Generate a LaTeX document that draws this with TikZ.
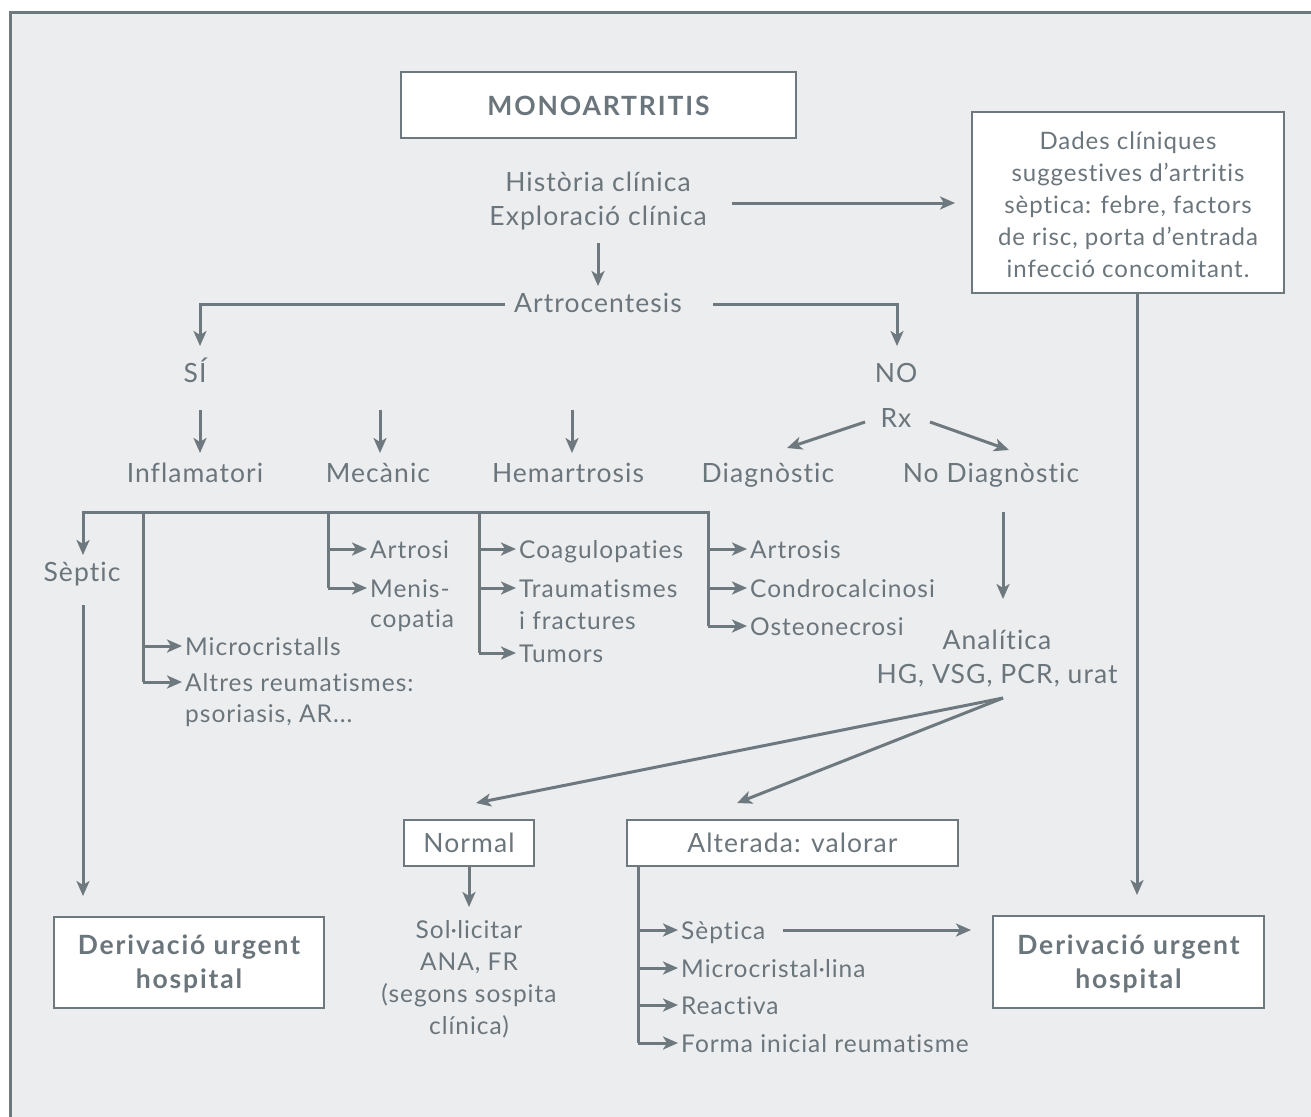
\documentclass[tikz,border=0pt]{standalone}
\usepackage{fontspec}
\setmainfont{Lato}[LetterSpace=4,Ligatures={NoCommon}]
\usetikzlibrary{arrows.meta}
\definecolor{fg}{HTML}{6B757C}
\definecolor{lnc}{HTML}{6E787F}
\definecolor{bg}{HTML}{ECEDEF}
\newcommand{\bigf}{\fontsize{26.5}{34}\selectfont}
\newcommand{\smallf}{\fontsize{24.5}{32}\selectfont}
\newcommand{\boldf}{\fontsize{26.5}{34}\selectfont\bfseries\addfontfeature{LetterSpace=7}}
\begin{document}
\begin{tikzpicture}[x=1pt,y=-1pt,
  every node/.style={text=fg, font=\bigf, inner sep=0pt},
  arr/.style={draw=lnc, line width=3pt, -{Stealth[length=15pt,width=13pt,inset=4pt]}},
  plain/.style={draw=lnc, line width=3pt},
  box/.style={draw=lnc, fill=white, line width=1.5pt},
  lbl/.style={anchor=base},
  item/.style={anchor=base west, font=\smallf},
  ctr/.style={align=center}]
\useasboundingbox (0,0) rectangle (1311,1116);
\clip (0,0) rectangle (1311,1116);
\draw[fill=bg, draw=lnc, line width=3pt] (10,13) rectangle (1340,1140);

% boxes
\node[box, minimum width=395pt, minimum height=66pt] (mono) at (598.5,105) {};
\node[font=\boldf] (monot) at (598.5,106) {MONOARTRITIS};
\node[box, minimum width=312pt, minimum height=181pt] (dades) at (1128,202.5) {};
\node[ctr, font=\fontsize{24}{32}\selectfont] (dadest) at (1128,205) {Dades clíniques\\suggestives d’artritis\\sèptica: febre, factors\\de risc, porta d’entrada\\infecció concomitant.};
\node[box, minimum width=270pt, minimum height=91pt] (derl) at (189,962.5) {};
\node[ctr, font=\boldf] (derlt) at (189,964) {Derivació urgent\\hospital};
\node[box, minimum width=271pt, minimum height=92pt] (derr) at (1128.5,962) {};
\node[ctr, font=\boldf] (derrt) at (1128.5,964) {Derivació urgent\\hospital};
\node[box, minimum width=130pt, minimum height=46pt] (normal) at (469,843) {};
\node[lbl] (normalt) at (469,852.5) {Normal};
\node[box, minimum width=331pt, minimum height=46pt] (alt) at (792.5,843) {};
\node[lbl] (altt) at (792.5,852.5) {Alterada: valorar};

% main texts
\node[ctr] (hist) at (598,201) {Història clínica\\Exploració clínica};
\node[lbl] (artro) at (598,312) {Artrocentesis};
\node[lbl] (si) at (195,382) {SÍ};
\node[lbl] (no) at (896,382) {NO};
\node[lbl] (rx) at (896,427) {Rx};
\node[lbl] (infl) at (195,482) {Inflamatori};
\node[lbl] (mec) at (378,482) {Mecànic};
\node[lbl] (hem) at (568,482) {Hemartrosis};
\node[lbl] (diag) at (768,482) {Diagnòstic};
\node[lbl] (nodiag) at (991,482) {No Diagnòstic};
\node[lbl] (sep) at (82,581) {Sèptic};
\node[ctr] (anal) at (997,659) {Analítica\\HG, VSG, PCR, urat};
\node[ctr, font=\smallf] (sol) at (469,979) {Sol·licitar\\ANA, FR\\(segons sospita\\clínica)};

% list items
\node[item] (i1) at (370,558) {Artrosi};
\node[item] (i2) at (370,597) {Menis-};
\node[item] (i2b) at (370,627) {copatia};
\node[item] (h1) at (519,558) {Coagulopaties};
\node[item] (h2) at (519,597) {Traumatismes};
\node[item] (h2b) at (519,629) {i fractures};
\node[item] (h3) at (519,662) {Tumors};
\node[item] (d1) at (750,558) {Artrosis};
\node[item] (d2) at (750,597) {Condrocalcinosi};
\node[item] (d3) at (750,635) {Osteonecrosi};
\node[item] (m1) at (185,655) {Microcristalls};
\node[item] (m2) at (185,691) {Altres reumatismes:};
\node[item] (m2b) at (185,722) {psoriasis, AR...};
\node[item] (a1) at (681,939) {Sèptica};
\node[item] (a2) at (681,977) {Microcristal·lina};
\node[item] (a3) at (681,1014) {Reactiva};
\node[item] (a4) at (681,1052) {Forma inicial reumatisme};

% connectors
\draw[arr] (732,203) -- (955,203);
\draw[arr] (1137,293) -- (1137,895);
\draw[arr] (598,243) -- (598,286);
\draw[arr] (505,304) -| (200,346);
\draw[arr] (713,304) -| (897,346);
\draw[arr] (200,410) -- (200,453);
\draw[arr] (380,410) -- (380,453);
\draw[arr] (572,410) -- (572,453);
\draw[arr] (865,422) -- (787,448);
\draw[arr] (930,422) -- (1009,450);
% inflamatori bus
\draw[plain] (708,512) -- (83,512);
\draw[arr] (83,510.5) -- (83,555);
\draw[plain] (143,512) -- (143,682);
\draw[arr] (143,646) -- (182,646);
\draw[arr] (143,682) -- (182,682);
\draw[plain] (328,512) -- (328,588);
\draw[arr] (328,549) -- (367,549);
\draw[arr] (328,588) -- (367,588);
\draw[plain] (479,512) -- (479,653);
\draw[arr] (479,549) -- (516,549);
\draw[arr] (479,588) -- (516,588);
\draw[arr] (479,653) -- (516,653);
\draw[plain] (708,510.5) -- (708,626);
\draw[arr] (708,549) -- (747,549);
\draw[arr] (708,588) -- (747,588);
\draw[arr] (708,626) -- (747,626);
\draw[arr] (83,605) -- (83,896);
\draw[arr] (1003,512) -- (1003,599);
\draw[arr] (1003,698) -- (476,803);
\draw[arr] (1003,698) -- (737,803);
\draw[arr] (469,866) -- (469,907);
\draw[plain] (638,866) -- (638,1043);
\draw[arr] (638,930) -- (678,930);
\draw[arr] (638,968) -- (678,968);
\draw[arr] (638,1005) -- (678,1005);
\draw[arr] (638,1043) -- (678,1043);
\draw[arr] (783,930) -- (971,930);
\end{tikzpicture}
\end{document}
